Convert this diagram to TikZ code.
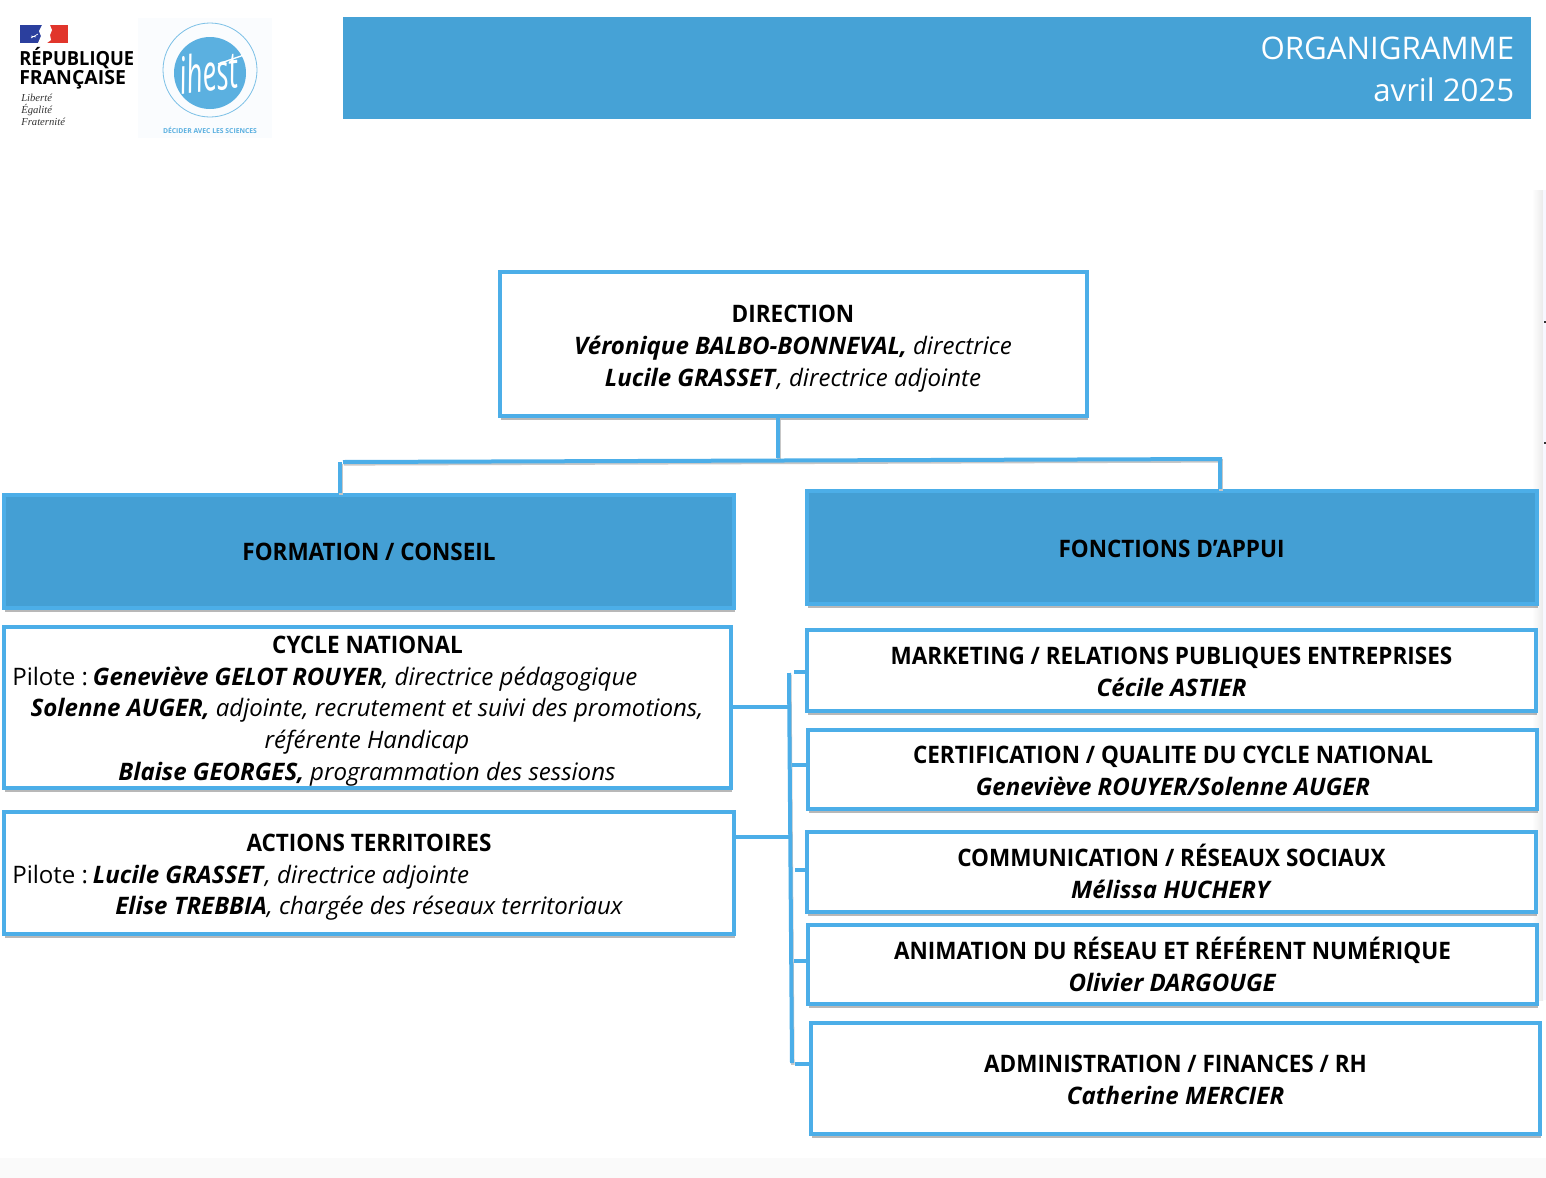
\documentclass[tikz,border=0pt]{standalone}
\usepackage{fontspec}
\setmainfont{Open Sans}
\newfontfamily\rfont{Liberation Serif}
\newfontfamily\capsfont[FakeStretch=0.935]{Open Sans}
\usetikzlibrary{shadows}
\definecolor{edgeblue}{HTML}{4CAEE8}
\definecolor{headblue}{HTML}{449FD4}
\definecolor{bannerblue}{HTML}{46A2D6}
\definecolor{logoblue}{HTML}{5BB0E0}
\definecolor{flagblue}{HTML}{2B3F9E}
\definecolor{flagred}{HTML}{E1352B}
\definecolor{logobg}{HTML}{FAFCFE}
\newcommand{\caps}[1]{{\capsfont\bfseries #1}}
\tikzset{
  softshadow/.style={drop shadow={shadow xshift=1pt,shadow yshift=-2.9pt,opacity=.28,fill=black}},
  whitebox/.style={draw=edgeblue,line width=3pt,fill=white,rectangle,inner sep=0pt,softshadow},
  headbox/.style={draw=edgeblue,line width=3pt,fill=headblue,rectangle,inner sep=0pt,softshadow},
  lbl/.style={align=center,inner sep=0pt,font=\fontsize{18.05}{24}\selectfont,text=black},
  lft/.style={lbl,anchor=west,align=left},
  link/.style={draw=edgeblue,line width=3pt,preaction={draw=black!22,line width=2.6pt,transform canvas={shift={(0.6pt,-1.4pt)}}}},
  bar/.style={draw=edgeblue,line width=3pt},
  rf/.style={anchor=base west,inner sep=0pt,font=\fontsize{14.6}{15}\selectfont\bfseries},
  devise/.style={anchor=base west,inner sep=0pt,font=\rfont\fontsize{8}{8}\selectfont\itshape,text=black!80},
  bannertext/.style={anchor=base east,inner sep=0pt,text=white,font=\fontsize{23.4}{30}\selectfont},
}
\newcommand{\pxbox}[6]{%
  \node[#6,minimum width={0.75pt*(#4-#2-4)},minimum height={0.75pt*(#5-#3-4)}] (#1)
    at ({(#2+#4)/2},{(#3+#5)/2}) {};}
\begin{document}
\begin{tikzpicture}[x=0.75pt,y=-0.75pt]
\useasboundingbox (0,0) rectangle (1546,1178);
\fill[white] (0,0) rectangle (1546,1178);
% page edges of the screenshot
\fill[black!2] (0,1158) rectangle (1546,1178);
\shade[left color=white,right color=black!8] (1532,190) rectangle (1543,1000);
\fill[blue!3] (1543,190) rectangle (1546,1000);
\draw[black!80,line width=.9pt] (1544,322) -- (1546,322);
\draw[black!80,line width=.9pt] (1544,443) -- (1546,443);
% banner
\fill[bannerblue] (343,17) rectangle (1531,119);
\node[bannertext] (t1) at (1514.5,59) {ORGANIGRAMME};
\node[bannertext] (t2) at (1514.5,101) {avril 2025};
% Marianne
\fill[flagblue] (19.5,25) rectangle (42,43);
\fill[flagred] (47,25) rectangle (68,43);
\fill[white] (42,25) -- (39,31) -- (41,36) -- (38,43) -- (47,43) -- (51,40) -- (50,35) -- (52,30) -- (50,25) -- cycle;
\draw[white,line width=.5pt] (31,38) -- (38,34) (31,36) -- (36,37);
\node[rf,xscale=.94] (r1) at (19,65) {RÉPUBLIQUE};
\node[rf] (r2) at (19,84) {FRANÇAISE};
\node[devise] (d1) at (21,101) {Liberté};
\node[devise] (d2) at (21,113) {Égalité};
\node[devise] (d3) at (21,125) {Fraternité};
% ihest
\fill[logobg] (138,18) rectangle (272,138);
\draw[logoblue!80,line width=.6pt] (210,70) ellipse (47 and 47);
\fill[logoblue] (210,73) circle (36);
\node[inner sep=0pt,text=white,font=\itshape\fontsize{24}{24}\selectfont,rotate=6,yscale=1.6,xscale=.88] (ih) at (209,72) {ihest};
\draw[white,line width=1pt] (218,64) -- (244,55);
\node[inner sep=0pt,text=logoblue,font=\bfseries\fontsize{5.1}{5}\selectfont] (dec) at (210,130) {DÉCIDER AVEC LES SCIENCES};
% connectors
\coordinate (stemEnd) at (778,458);
\coordinate (hL) at (343,462);
\coordinate (hR) at (1222,459);
\coordinate (dropL) at (340,462);
\coordinate (dropR) at (1220,459);
\coordinate (busT) at (789,673);
\coordinate (busB) at (792,1063);
\coordinate (j1) at (789,707);
\coordinate (j2) at (790,837);
\coordinate (s1) at (794,672);
\coordinate (s2) at (792,765);
\coordinate (s3) at (795,870);
\coordinate (s4) at (794,961);
\coordinate (s5) at (795,1064);
% boxes
\pxbox{dir}{498}{270}{1089}{418}{whitebox}
\pxbox{hl}{2}{493}{736}{610}{headbox}
\pxbox{hr}{805}{489}{1539}{606}{headbox}
\pxbox{cyc}{2}{625}{733}{790}{whitebox}
\pxbox{act}{2}{810}{736}{936}{whitebox}
\pxbox{mkt}{805}{628}{1538}{713}{whitebox}
\pxbox{cer}{806}{728}{1539}{811}{whitebox}
\pxbox{com}{805}{830}{1538}{914}{whitebox}
\pxbox{ani}{806}{923}{1539}{1006}{whitebox}
\pxbox{adm}{809}{1021}{1542}{1136}{whitebox}
\draw[link] (dir.south -| stemEnd) -- (stemEnd);
\draw[link] (hL) -- (hR);
\draw[link] (dropL) -- (hl.north -| dropL);
\draw[link] (dropR) -- (hr.north -| dropR);
\draw[link] (busT) -- (busB);
\draw[bar] (cyc.east |- j1) -- (j1);
\draw[bar] (act.east |- j2) -- (j2);
\draw[bar] (s1) -- (mkt.west |- s1);
\draw[bar] (s2) -- (cer.west |- s2);
\draw[bar] (s3) -- (com.west |- s3);
\draw[bar] (s4) -- (ani.west |- s4);
\draw[bar] (s5) -- (adm.west |- s5);
% texts
\node[lbl] (tdir) at (793,349) {\caps{DIRECTION}\\\textbf{\itshape Véronique BALBO-BONNEVAL,} {\itshape directrice}\\\textbf{\itshape Lucile GRASSET}{\itshape, directrice adjointe}};
\node[lbl] (thl) at (369,552) {\caps{FORMATION / CONSEIL}};
\node[lbl] (thr) at (1171.5,549) {\caps{FONCTIONS D’APPUI}};
\node[lbl] (tc1) at (367.5,645) {\caps{CYCLE NATIONAL}};
\node[lft] (tc2) at (12,679) {Pilote :\hspace{3.6pt}\textbf{\itshape Geneviève GELOT ROUYER}{\itshape, directrice pédagogique}};
\node[lbl] (tc3) at (367,742) {\textbf{\itshape Solenne AUGER,} {\itshape adjointe, recrutement et suivi des promotions,}\\{\itshape référente Handicap}\\\textbf{\itshape Blaise GEORGES,} {\itshape programmation des sessions}};
\node[lbl] (ta1) at (369,843) {\caps{ACTIONS TERRITOIRES}};
\node[lft] (ta2) at (12,877) {Pilote :\hspace{3.6pt}\textbf{\itshape Lucile GRASSET}{\itshape, directrice adjointe}};
\node[lbl] (ta3) at (369,908) {\textbf{\itshape Elise TREBBIA}{\itshape, chargée des réseaux territoriaux}};
\node[lbl] (tm) at (1171.5,672) {\caps{MARKETING / RELATIONS PUBLIQUES ENTREPRISES}\\\textbf{\itshape Cécile ASTIER}};
\node[lbl] (tce) at (1173,771) {\caps{CERTIFICATION / QUALITE DU CYCLE NATIONAL}\\\textbf{\itshape Geneviève ROUYER/Solenne AUGER}};
\node[lbl] (tco) at (1171.5,871) {\caps{COMMUNICATION / RÉSEAUX SOCIAUX}\\\textbf{\itshape Mélissa HUCHERY}};
\node[lbl] (tan) at (1172.5,964) {\caps{ANIMATION DU RÉSEAU ET RÉFÉRENT NUMÉRIQUE}\\\textbf{\itshape Olivier DARGOUGE}};
\node[lbl] (tad) at (1175.5,1080) {\caps{ADMINISTRATION / FINANCES / RH}\\\textbf{\itshape Catherine MERCIER}};
\end{tikzpicture}
\end{document}
